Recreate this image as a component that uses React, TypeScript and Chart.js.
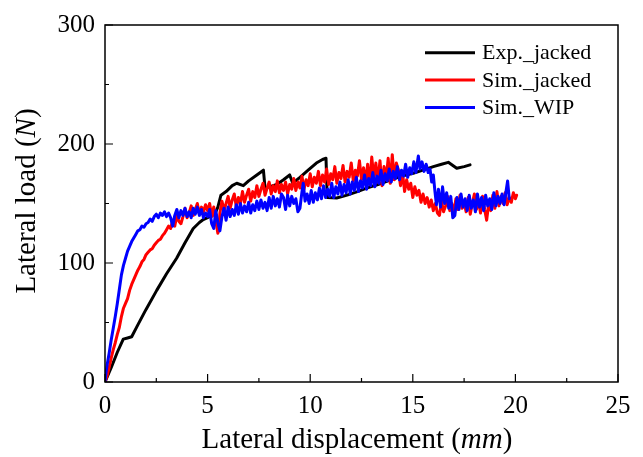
import { useEffect, useRef } from "react";
import { Chart, registerables } from "chart.js";

Chart.register(...registerables);

const seriesLabels = ["Exp._jacked", "Sim._jacked", "Sim._WIP"];
const seriesColors = ["#000000", "#ff0000", "#0000ff"];

const expX = [0, 0.3, 0.6, 0.89, 1.1, 1.3, 1.6, 2.0, 2.52, 3.0, 3.49, 3.9, 4.3, 4.6, 4.79, 5.1, 5.35, 5.5, 5.65, 5.9, 6.2, 6.42, 6.74, 7.0, 7.4, 7.72, 7.8, 8.0, 8.37, 8.7, 9.0, 9.15, 9.5, 9.9, 10.3, 10.6, 10.77, 10.83, 11.29, 11.8, 12.3, 12.75, 13.3, 13.8, 14.38, 15.02, 15.5, 16.0, 16.4, 16.73, 17.14, 17.5, 17.79];
const expY = [0, 12, 25, 36, 37, 38, 48, 61, 77, 91, 104, 117, 129, 134, 136.5, 139, 141, 147, 157, 160, 165, 167, 165, 169, 174, 178, 163, 164, 166, 170, 174, 167, 172, 178, 184, 187, 188, 155, 154.6, 157, 160, 163, 166, 169, 172.7, 175.4, 178, 181, 183, 184.6, 179.6, 181, 182.5];

const simJackedX = [0, 0.1, 0.2, 0.3, 0.4, 0.5, 0.6, 0.7, 0.8, 0.9, 1.0, 1.1, 1.2, 1.3, 1.4, 1.5, 1.6, 1.7, 1.8, 1.9, 2.0, 2.1, 2.2, 2.3, 2.4, 2.5, 2.6, 2.7, 2.8, 2.9, 3.0, 3.1, 3.2, 3.3, 3.4, 3.5, 3.6, 3.7, 3.8, 3.9, 4.0, 4.1, 4.2, 4.3, 4.4, 4.5, 4.6, 4.7, 4.8, 4.9, 5.0, 5.1, 5.2, 5.3, 5.4, 5.5, 5.55, 5.6, 5.7, 5.8, 5.9, 6.0, 6.1, 6.2, 6.3, 6.4, 6.5, 6.6, 6.7, 6.8, 6.9, 7.0, 7.1, 7.2, 7.3, 7.4, 7.5, 7.6, 7.7, 7.8, 7.9, 8.0, 8.1, 8.2, 8.3, 8.4, 8.5, 8.6, 8.7, 8.8, 8.9, 9.0, 9.1, 9.2, 9.3, 9.4, 9.5, 9.6, 9.7, 9.8, 9.9, 10.0, 10.1, 10.2, 10.3, 10.4, 10.5, 10.6, 10.7, 10.8, 10.9, 11.0, 11.1, 11.2, 11.3, 11.4, 11.5, 11.6, 11.7, 11.8, 11.9, 12.0, 12.1, 12.2, 12.3, 12.4, 12.5, 12.6, 12.7, 12.8, 12.9, 13.0, 13.1, 13.2, 13.3, 13.4, 13.5, 13.6, 13.7, 13.8, 13.9, 14.0, 14.1, 14.2, 14.3, 14.4, 14.5, 14.6, 14.7, 14.8, 14.9, 15.0, 15.1, 15.2, 15.3, 15.4, 15.5, 15.6, 15.7, 15.8, 15.9, 16.0, 16.1, 16.2, 16.3, 16.4, 16.5, 16.6, 16.7, 16.8, 16.9, 17.0, 17.1, 17.2, 17.3, 17.4, 17.5, 17.6, 17.7, 17.8, 17.9, 18.0, 18.1, 18.2, 18.3, 18.4, 18.5, 18.6, 18.7, 18.8, 18.9, 19.0, 19.1, 19.2, 19.3, 19.4, 19.5, 19.6, 19.7, 19.8, 19.9, 20.0, 20.06];
const simJackedY = [0, 5, 12, 20, 27, 33, 40, 46, 55, 62, 66, 70, 77, 82, 86, 90, 94, 97, 101, 103, 107, 109, 111, 112, 115, 117, 119, 120, 123, 125, 128, 131, 129, 136, 131, 140, 135, 133, 139, 146, 138, 142, 148, 140, 145, 150, 141, 147, 143, 149, 144, 150, 139, 147, 135, 125, 130, 142, 152, 144, 150, 156, 146, 153, 158, 147, 155, 150, 160, 151, 157, 162, 152, 160, 155, 165, 156, 162, 167, 157, 163, 168, 158, 165, 160, 169, 159, 166, 161, 168, 158, 166, 162, 171, 161, 168, 163, 173, 162, 170, 165, 175, 164, 172, 167, 177, 165, 174, 168, 179, 166, 175, 170, 181, 167, 176, 171, 182, 168, 177, 172, 184, 169, 178, 173, 186, 170, 180, 168, 183, 166, 189, 172, 184, 168, 186, 165, 181, 170, 188, 167, 191, 170, 184, 178, 165, 176, 160, 170, 162, 167, 155, 164, 157, 161, 151, 158, 150, 155, 147, 153, 144, 150, 142, 140, 152, 143, 148, 156, 144, 150, 142, 154, 145, 157, 146, 151, 143, 155, 141, 150, 158, 145, 153, 142, 156, 145, 136, 150, 144, 157, 146, 160, 148, 156, 150, 159, 149, 155, 151, 159, 154, 157];

const simWipX = [0, 0.05, 0.1, 0.2, 0.3, 0.4, 0.5, 0.6, 0.7, 0.8, 0.9, 1.0, 1.1, 1.2, 1.3, 1.4, 1.5, 1.6, 1.7, 1.8, 1.9, 2.0, 2.1, 2.2, 2.3, 2.4, 2.5, 2.6, 2.7, 2.8, 2.9, 3.0, 3.1, 3.2, 3.3, 3.4, 3.5, 3.6, 3.7, 3.8, 3.9, 4.0, 4.1, 4.2, 4.3, 4.4, 4.5, 4.6, 4.7, 4.8, 4.9, 5.0, 5.1, 5.2, 5.3, 5.4, 5.5, 5.6, 5.7, 5.8, 5.9, 6.0, 6.1, 6.2, 6.3, 6.4, 6.5, 6.6, 6.7, 6.8, 6.9, 7.0, 7.1, 7.2, 7.3, 7.4, 7.5, 7.6, 7.7, 7.8, 7.9, 8.0, 8.1, 8.2, 8.3, 8.4, 8.5, 8.6, 8.7, 8.8, 8.9, 9.0, 9.1, 9.2, 9.3, 9.4, 9.5, 9.6, 9.66, 9.75, 9.85, 9.95, 10.05, 10.15, 10.25, 10.35, 10.45, 10.55, 10.65, 10.75, 10.85, 10.95, 11.05, 11.15, 11.25, 11.35, 11.45, 11.55, 11.65, 11.75, 11.85, 11.95, 12.05, 12.15, 12.25, 12.35, 12.45, 12.55, 12.65, 12.75, 12.85, 12.95, 13.05, 13.15, 13.25, 13.35, 13.45, 13.55, 13.65, 13.75, 13.85, 13.95, 14.05, 14.15, 14.25, 14.35, 14.45, 14.55, 14.65, 14.75, 14.85, 14.95, 15.05, 15.15, 15.27, 15.35, 15.45, 15.55, 15.65, 15.75, 15.84, 15.92, 16.0, 16.08, 16.15, 16.25, 16.35, 16.45, 16.55, 16.65, 16.75, 16.85, 16.95, 17.05, 17.15, 17.25, 17.35, 17.45, 17.55, 17.65, 17.75, 17.85, 17.95, 18.05, 18.15, 18.25, 18.35, 18.45, 18.55, 18.65, 18.75, 18.85, 18.95, 19.05, 19.15, 19.25, 19.35, 19.45, 19.55, 19.62, 19.7];
const simWipY = [0, 8, 14, 24, 35, 45, 55, 66, 78, 90, 98, 104, 110, 114, 118, 121, 124, 127, 128, 131, 130, 133, 134, 137, 135, 139, 141, 138, 142, 140, 143, 139, 142, 138, 131, 140, 145, 138, 144, 140, 146, 139, 143, 138, 146, 141, 147, 140, 145, 138, 142, 139, 145, 133, 129, 144, 134, 127, 139, 146, 136, 147, 139, 145, 140, 149, 141, 150, 142, 148, 143, 151, 142, 149, 144, 152, 145, 153, 146, 151, 144, 155, 146, 156, 148, 154, 147, 158, 155, 145, 157, 148, 156, 150, 154, 143, 146, 160, 167, 152, 158, 150, 161, 151, 159, 153, 163, 154, 165, 155, 162, 156, 167, 155, 164, 158, 168, 157, 166, 159, 170, 158, 168, 161, 172, 160, 169, 163, 174, 162, 171, 165, 176, 164, 173, 167, 178, 166, 175, 169, 179, 168, 177, 171, 181, 170, 178, 173, 183, 172, 180, 175, 185, 176, 190, 179, 185, 177, 183, 176, 179, 168, 174, 160, 149, 162, 147, 164, 150, 159, 146, 156, 138, 140, 155, 145, 158, 147, 154, 144, 157, 146, 153, 143, 158, 147, 155, 144, 157, 148, 154, 145, 159, 148, 156, 150, 158, 149, 161, 169, 154];

const xMajorTicks = [0, 5, 10, 15, 20, 25];
const xMinorTicks = [2.5, 7.5, 12.5, 17.5, 22.5];
const yMajorTicks = [0, 100, 200, 300];
const yMinorTicks = [50, 150, 250];

const FONT = '"Liberation Serif", "Times New Roman", serif';

function pairs(xs: number[], ys: number[]) {
  return xs.map((x, i) => ({ x, y: ys[i] }));
}

function drawMixed(ctx: CanvasRenderingContext2D, parts: { t: string; i: boolean }[], cx: number, by: number, size: number) {
  const fonts = parts.map((p) => `${p.i ? "italic " : ""}${size}px ${FONT}`);
  const widths = parts.map((p, k) => {
    ctx.font = fonts[k];
    return ctx.measureText(p.t).width;
  });
  const total = widths.reduce((a, b) => a + b, 0);
  let x = cx - total / 2;
  ctx.textAlign = "left";
  ctx.textBaseline = "alphabetic";
  ctx.fillStyle = "#000";
  parts.forEach((p, k) => {
    ctx.font = fonts[k];
    ctx.fillText(p.t, x, by);
    x += widths[k];
  });
}

const framePlugin = {
  id: "frameAndDecor",
  afterDraw(chart: any) {
    const ctx: CanvasRenderingContext2D = chart.ctx;
    const { left, right, top, bottom } = chart.chartArea;
    const xs = chart.scales.x;
    const ys = chart.scales.y;
    ctx.save();
    ctx.strokeStyle = "#000";
    ctx.lineWidth = 1.5;
    ctx.strokeRect(left, top, right - left, bottom - top);
    ctx.lineWidth = 1.2;
    ctx.beginPath();
    xMajorTicks.forEach((v) => {
      const p = xs.getPixelForValue(v);
      ctx.moveTo(p, bottom);
      ctx.lineTo(p, bottom - 8);
    });
    xMinorTicks.forEach((v) => {
      const p = xs.getPixelForValue(v);
      ctx.moveTo(p, bottom);
      ctx.lineTo(p, bottom - 4);
    });
    yMajorTicks.forEach((v) => {
      const p = ys.getPixelForValue(v);
      ctx.moveTo(left, p);
      ctx.lineTo(left + 8, p);
    });
    yMinorTicks.forEach((v) => {
      const p = ys.getPixelForValue(v);
      ctx.moveTo(left, p);
      ctx.lineTo(left + 4, p);
    });
    ctx.stroke();

    drawMixed(ctx, [{ t: "Lateral displacement (", i: false }, { t: "mm", i: true }, { t: ")", i: false }], 357, 448, 29);
    ctx.save();
    ctx.translate(35, 201);
    ctx.rotate(-Math.PI / 2);
    drawMixed(ctx, [{ t: "Lateral load (", i: false }, { t: "N", i: true }, { t: ")", i: false }], 0, 0, 29);
    ctx.restore();

    const rows = [52.7, 80, 107.5];
    seriesLabels.forEach((lab, k) => {
      ctx.strokeStyle = seriesColors[k];
      ctx.lineWidth = 3;
      ctx.beginPath();
      ctx.moveTo(425, rows[k]);
      ctx.lineTo(475, rows[k]);
      ctx.stroke();
      ctx.fillStyle = "#000";
      ctx.font = `22px ${FONT}`;
      ctx.textAlign = "left";
      ctx.textBaseline = "middle";
      ctx.fillText(lab, 482, rows[k] + 1);
    });
    ctx.restore();
  },
};

export default function App() {
  const ref = useRef<HTMLCanvasElement | null>(null);
  useEffect(() => {
    if (!ref.current) return;
    const chart = new Chart(ref.current, {
      type: "line",
      data: {
        datasets: [
          { label: seriesLabels[0], data: pairs(expX, expY), borderColor: seriesColors[0], order: 3 },
          { label: seriesLabels[1], data: pairs(simJackedX, simJackedY), borderColor: seriesColors[1], order: 2 },
          { label: seriesLabels[2], data: pairs(simWipX, simWipY), borderColor: seriesColors[2], order: 1 },
        ],
      },
      options: {
        responsive: false,
        animation: false,
        elements: {
          line: { borderWidth: 3, tension: 0, fill: false, borderJoinStyle: "round", borderCapStyle: "round" },
          point: { radius: 0, hoverRadius: 0 },
        },
        layout: { padding: { top: 23, right: 25, left: 0, bottom: 0 } },
        plugins: { legend: { display: false }, tooltip: { enabled: false } },
        scales: {
          x: {
            type: "linear",
            min: 0,
            max: 25,
            ticks: { stepSize: 5, color: "#000", padding: 9, font: { family: FONT, size: 25 } },
            grid: { display: false, drawTicks: false },
            border: { display: false },
            afterFit: (s: any) => { s.height = 75; },
          },
          y: {
            type: "linear",
            min: 0,
            max: 300,
            ticks: { stepSize: 100, color: "#000", padding: 10, font: { family: FONT, size: 25 } },
            grid: { display: false, drawTicks: false },
            border: { display: false },
            afterFit: (s: any) => { s.width = 105; },
          },
        },
      },
      plugins: [framePlugin],
    });
    return () => chart.destroy();
  }, []);
  return (
    <div style={{ position: "absolute", left: 0, top: 0, width: 643, height: 457, background: "#fff" }}>
      <canvas ref={ref} width={643} height={457} style={{ display: "block" }} />
    </div>
  );
}
